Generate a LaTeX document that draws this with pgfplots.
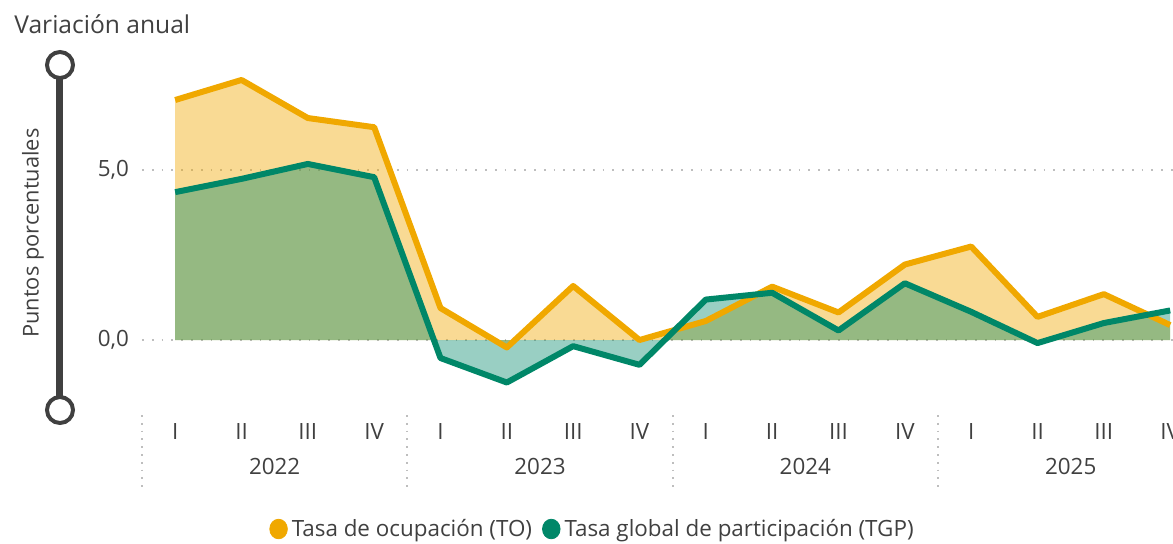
\documentclass[border=0pt]{standalone}
\usepackage{pgfplots}
\pgfplotsset{compat=1.18}
\usepackage{pgfplotstable}
\usepackage{fontspec}
\setmainfont{Open Sans}
\definecolor{toC}{RGB}{240,168,0}
\definecolor{tgpC}{RGB}{0,135,104}
\definecolor{txtC}{RGB}{64,64,64}
\definecolor{gridC}{RGB}{190,190,190}
\pgfplotstableread{
x TO TGP
0 7.06 4.35
1 7.65 4.74
2 6.53 5.18
3 6.26 4.79
4 0.94 -0.53
5 -0.22 -1.25
6 1.59 -0.18
7 0.00 -0.73
8 0.56 1.19
9 1.57 1.39
10 0.81 0.28
11 2.22 1.67
12 2.75 0.83
13 0.68 -0.09
14 1.35 0.50
15 0.44 0.87
}\datatab
\begin{document}
\begin{tikzpicture}
\useasboundingbox (-71pt,-67.5pt) rectangle (515.5pt,204pt);
\clip (-71pt,-67.5pt) rectangle (515.5pt,204pt);
\begin{axis}[
  scale only axis,
  width=530.67pt, height=171.5pt,
  xmin=-0.5, xmax=15.5, ymin=-2, ymax=8.09,
  axis line style={draw=none},
  clip=false,
  xtick={0,...,15},
  xticklabels={I,II,III,IV,I,II,III,IV,I,II,III,IV,I,II,III,IV},
  ytick={0,5},
  major tick length=0pt,
  ymajorgrids,
  grid style={gridC, line width=0.9pt, dash pattern=on 0.9pt off 4pt},
  /pgf/number format/assume math mode=true,
  /pgf/number format/.cd, use comma, fixed, fixed zerofill, precision=1, /pgfplots/.cd,
  tick label style={font=\fontsize{11.2}{13}\selectfont, text=txtC},
  xticklabel style={anchor=base, yshift=-15.5pt},
  yticklabel style={anchor=east, xshift=-3pt},
  every axis y label/.style={at={(axis description cs:-0.1027,0.51)}, rotate=90, anchor=center, font=\fontsize{10.9}{13}\selectfont, text=txtC},
  ylabel={Puntos porcentuales},
  legend style={at={(0.4254,-0.3528)}, anchor=center, draw=none, fill=none,
    legend columns=2, font=\fontsize{11.2}{13}\selectfont, text=txtC,
    inner sep=0pt,
    /tikz/every even column/.append style={column sep=3pt}},
  legend cell align=left,
]
\addplot[draw=none, fill=toC, fill opacity=0.42, forget plot] table[x=x, y=TO] {\datatab} \closedcycle;
\addplot[draw=none, fill=tgpC, fill opacity=0.4, forget plot] table[x=x, y=TGP] {\datatab} \closedcycle;
\addplot[toC, line width=3pt, line join=round, forget plot] table[x=x, y=TO] {\datatab};
\addplot[tgpC, line width=3pt, line join=round, forget plot] table[x=x, y=TGP] {\datatab};
\addlegendimage{legend image code/.code={\fill[toC] (0pt,0pt) ellipse (4.4pt and 4.9pt);}}
\addlegendentry{Tasa de ocupación (TO)}
\addlegendimage{legend image code/.code={\fill[tgpC] (0pt,0pt) ellipse (4.4pt and 4.9pt);}}
\addlegendentry{Tasa global de participación (TGP)}
% year labels and separators
\foreach \xc/\yr in {1.5/2022, 5.5/2023, 9.5/2024, 13.5/2025} {
  \edef\tmp{\noexpand\node[anchor=base, font=\noexpand\fontsize{11.2}{13}\noexpand\selectfont, text=txtC, yshift=-33pt] at (axis cs:\xc,-2) {\yr};}
  \tmp
}
\foreach \xs in {-0.5, 3.5, 7.5, 11.5} {
  \edef\tmp{\noexpand\draw[gridC, line width=0.9pt, dash pattern=on 0.9pt off 3pt] ([yshift=-3.5pt]axis cs:\xs,-2) -- ([yshift=-39.5pt]axis cs:\xs,-2);}
  \tmp
}
\end{axis}
% slider decoration
\definecolor{sldC}{RGB}{64,64,64}
\draw[sldC, line width=3.5pt] (-41pt,0pt) -- (-41pt,171.5pt);
\draw[sldC, line width=2pt, fill=white] (-41pt,171.5pt) circle (6.5pt);
\draw[sldC, line width=2pt, fill=white] (-41pt,-1pt) circle (6.5pt);
% title
\node[anchor=base west, inner sep=0pt, font=\fontsize{12.3}{14}\selectfont, text=txtC] at (-64pt,187.5pt) {Variación anual};
\end{tikzpicture}
\end{document}
